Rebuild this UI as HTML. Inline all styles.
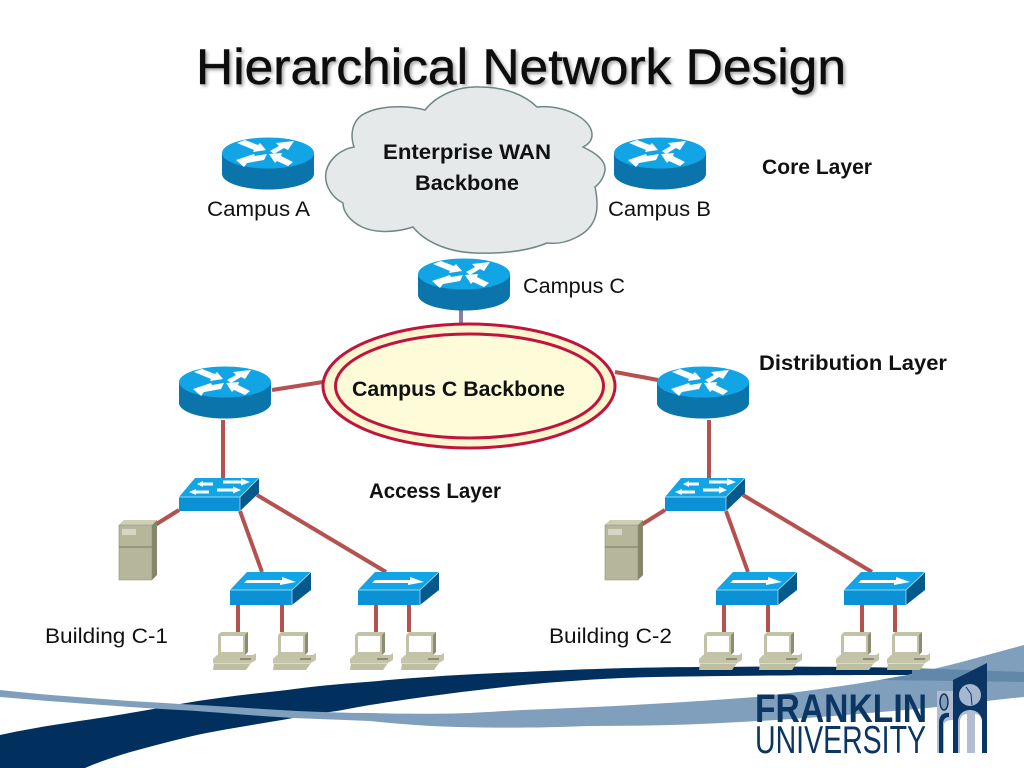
<!DOCTYPE html>
<html><head><meta charset="utf-8"><style>html,body{margin:0;padding:0;background:#fff}svg{display:block}text{font-family:"Liberation Sans",sans-serif;fill:#111}</style></head><body>
<svg width="1024" height="768" viewBox="0 0 1024 768" xmlns="http://www.w3.org/2000/svg">
<defs>
<filter id="ts" x="-5%" y="-20%" width="110%" height="140%"><feDropShadow dx="2" dy="2" stdDeviation="1.5" flood-color="#000" flood-opacity=".35"/></filter>
<g id="router">
<path d="M-46 0V21A46 15.500 0 0 0 46 21V0Z" fill="#0a74ab"/>
<ellipse cx="0" cy="0" rx="46" ry="15.500" fill="#12a5e6"/>
<path d="M-31-10-23-13-10-8-8-10-2-3-15-1-14-3ZM2-2 11-7 8-10 26-12 20-3 16-5 6 1ZM-1 1-13 3-14 1-32 7-24 14-21 10-4 7ZM1 1 14 0 13 3 25 9 20 13 9 8 7 10Z" fill="#fff"/>
</g>
<g id="sw">
<path d="M16 0H80L61 19H0Z" fill="#12a5e6"/><path d="M0 19H61V33H0Z" fill="#0b92d6"/><path d="M61 19 80 0V15L61 33Z" fill="#055a8c"/>
<path d="M0 19H61L80 0M61 19V33" fill="none" stroke="#bfe7f7" stroke-width=".7"/>
<path d="M18 6 24 3V4.500H34V7.500H24V9ZM44 2.500H62V0.500L71 4 62 7.500V5.500H44ZM10 14 17 11V12.500H30V15.500H17V17ZM62 12 54 8.500V10.500H38V13.500H54V15.500Z" fill="#fff"/>
</g>
<g id="sa">
<path d="M17 0H81L62 18H0Z" fill="#12a5e6"/><path d="M0 18H62V33H0Z" fill="#0b92d6"/><path d="M62 18 81 0V18L62 33Z" fill="#055a8c"/>
<path d="M0 18H62L81 0M62 18V33" fill="none" stroke="#bfe7f7" stroke-width=".7"/>
<path d="M17 8H52V5L66 10 50 13V11H14Z" fill="#fff"/>
</g>
<g id="srv">
<path d="M0 5 5 0H38V55L33 60H0Z" fill="#b6b69a"/><path d="M33 5 38 0V55L33 60Z" fill="#85866b"/><path d="M0 5 5 0H38L33 5Z" fill="#cfcfb8"/>
<path d="M0 27H33" stroke="#77785f" stroke-width="1"/><rect x="3" y="9" width="14" height="6" fill="#d6d6c7"/>
<path d="M0 5H33V60H0Z" fill="none" stroke="#8e8f75" stroke-width=".6"/>
</g>
<g id="pc">
<path d="M5 3 8 0H35V20L32 23H5Z" fill="#c2c3a6"/><path d="M32 3 35 0V20L32 23Z" fill="#8b8c72"/><rect x="8" y="4" width="22" height="16" fill="#fff"/>
<path d="M4 23H40L43 21V28L38 31H0V27Z" fill="#c4c4a8"/><path d="M27 27H38" stroke="#55563f"/>
<path d="M1 31H38L33 38H0Z" fill="#bebea2"/><path d="M0 31.500H38" stroke="#e4e4d6" stroke-width=".8"/>
</g>
</defs>
<rect width="1024" height="768" fill="#fff"/>
<!-- swooshes -->
<path d="M0 735C45 725 90 720 130 713C148 710 165 707 180 704C215 698 250 694 287 690C315 686 340 684 366 682C420 677 470 674 523 672C600 668 660 667 719 667C800 666 860 667 912 668V675C860 675 780 675 654 677C610 678 565 681 523 685C475 690 420 697 370 705C358 707 348 709 337 711C322 713 308 715 293 718C255 725 215 730 180 739C145 748 115 755 85 768H0Z" fill="#01305e"/>
<path d="M0 690C45 695 90 698 130 701C148 702 165 703 180 704C220 706 260 709 297 711C322 712 346 713 370 713C400 714 440 714 470 713C490 712 505 711 523 710C600 707 680 703 755 697C810 691 860 684 907 675C950 666 990 654 1024 645V697C990 700 960 705 927 708C860 714 800 719 740 722C690 725 640 726 588 726C540 728 500 728 457 727C425 726 398 724 370 721C345 720 320 719 293 718C255 716 215 712 180 710C160 709 145 708 130 707C90 704 45 701 0 697Z" fill="#7f9fbd"/>
<path d="M912 668 1024 672V682L880 680C890 678 900 676 912 675Z" fill="#6288a9"/>
<!-- logo -->
<g>
<text x="755" y="722" font-size="40" font-weight="bold" textLength="172" lengthAdjust="spacingAndGlyphs" style="fill:#0b3563">FRANKLIN</text>
<text x="755" y="753" font-size="39" textLength="171" lengthAdjust="spacingAndGlyphs" style="fill:#0b3563">UNIVERSITY</text>
<path d="M937 691H953V753H937Z" fill="#b2bdd2"/>
<path d="M944 753V725C944 722 947 720 953 720V753Z" fill="#fff"/>
<path d="M939 753V722C939 715 944 712 949 713V717C945 717 943 720 943 724V753Z" fill="#0b3563"/>
<ellipse cx="944" cy="702" rx="4" ry="8" fill="#7f9fbd" stroke="#0b3563" stroke-width="1.500"/>
<path d="M953 680 987 663V753H953Z" fill="#0b3563"/>
<circle cx="970" cy="695" r="11" fill="#a6b8cf"/><path d="M966 687 971 694 972 705" stroke="#0b3563" fill="none"/>
<path d="M958 753V722C958 706 982 706 982 722V753Z" fill="#b2bdd2"/>
<path d="M960 753V722C960 716 964 714 967 714V753ZM975 753V714C978 714 982 716 982 722V753Z" fill="#fff"/>
</g>
<!-- title -->
<text x="196" y="84" font-size="50" textLength="650" lengthAdjust="spacingAndGlyphs" stroke="#111" stroke-width=".5" filter="url(#ts)">Hierarchical Network Design</text>
<!-- connectors -->
<g stroke="#b5514f" stroke-width="4" fill="none">
<path d="M272 390 323 382M615 372 658 380M223 420V478M709 420V478"/>
<path d="M179 510 155 525M240 511 262 572M257 495 386 572"/>
<path d="M238 605V632M282 605V632M376 605V632M409 605V632"/>
<path d="M665 510 641 525M726 511 748 572M743 495 872 572"/>
<path d="M724 605V632M768 605V632M862 605V632M895 605V632"/>
</g>
<path d="M461 306V325" stroke="#8a7f9c" stroke-width="4"/>
<!-- cloud -->
<path d="M425 110C437 95 458 86 480 87C505 87 525 95 537 107C562 104 592 118 592 135C592 140 589 144 583 147C596 153 606 161 605 170C604 177 600 183 595 187C600 210 597 228 575 238C565 243 555 244 547 243C530 250 505 254 475 253C448 252 425 242 413 227C395 233 375 233 362 227C350 221 343 212 343 203C331 197 324 184 326 172C329 158 342 149 354 147C350 135 352 122 362 115C378 105 408 105 425 110Z" fill="#e6e9ea" stroke="#6f8884" stroke-width="1.500"/>
<!-- ellipse -->
<ellipse cx="469" cy="386" rx="146" ry="62" fill="#fbf6cf" stroke="#c0143c" stroke-width="3"/>
<ellipse cx="469.500" cy="386" rx="134" ry="52" fill="#fdfbd8" stroke="#c0143c" stroke-width="3"/>
<!-- devices -->
<use href="#router" x="268" y="153"/><use href="#router" x="660" y="153"/><use href="#router" x="464" y="274"/><use href="#router" x="225" y="382"/><use href="#router" x="703" y="382"/>
<use href="#sw" x="179" y="478"/><use href="#sw" x="665" y="478"/>
<use href="#sa" x="230" y="572"/><use href="#sa" x="358" y="572"/><use href="#sa" x="716" y="572"/><use href="#sa" x="844" y="572"/>
<use href="#srv" x="119" y="520"/><use href="#srv" x="605" y="520"/>
<use href="#pc" x="213" y="632"/><use href="#pc" x="273" y="632"/><use href="#pc" x="350" y="632"/><use href="#pc" x="401" y="632"/>
<use href="#pc" x="699" y="632"/><use href="#pc" x="759" y="632"/><use href="#pc" x="836" y="632"/><use href="#pc" x="887" y="632"/>
<!-- labels -->
<g font-size="21">
<text x="207" y="216" textLength="103" lengthAdjust="spacingAndGlyphs">Campus A</text>
<text x="608" y="216" textLength="103" lengthAdjust="spacingAndGlyphs">Campus B</text>
<text x="523" y="293" textLength="102" lengthAdjust="spacingAndGlyphs">Campus C</text>
<text x="45" y="643" textLength="123" lengthAdjust="spacingAndGlyphs">Building C-1</text>
<text x="549" y="643" textLength="123" lengthAdjust="spacingAndGlyphs">Building C-2</text>
</g>
<g font-size="21" font-weight="bold">
<text x="383" y="159" textLength="168" lengthAdjust="spacingAndGlyphs">Enterprise WAN</text>
<text x="415" y="190" textLength="104" lengthAdjust="spacingAndGlyphs">Backbone</text>
<text x="762" y="174" textLength="110" lengthAdjust="spacingAndGlyphs">Core Layer</text>
<text x="759" y="370" textLength="188" lengthAdjust="spacingAndGlyphs">Distribution Layer</text>
<text x="352" y="396" textLength="213" lengthAdjust="spacingAndGlyphs">Campus C Backbone</text>
<text x="369" y="498" textLength="132" lengthAdjust="spacingAndGlyphs">Access Layer</text>
</g>
</svg>
</body></html>
